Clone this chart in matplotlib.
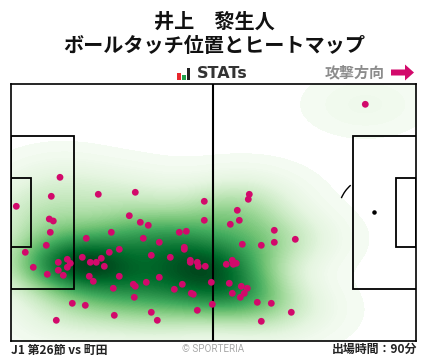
import numpy as np
import matplotlib
matplotlib.use('Agg')
import matplotlib.pyplot as plt
from matplotlib.patches import Arc, Rectangle, FancyArrow

plt.rcParams['font.family'] = ['Noto Sans CJK JP', 'DejaVu Sans']

# touch positions (pitch axes run in picture pixels)
touch_x = [60, 51.3, 98.3, 135.3, 204.3, 16.3, 129.3, 365.3, 249.3, 248.3, 237.3,
           49.3, 53.3, 50.3, 46.3, 25.3, 33.3, 47.3, 58.3, 58.3, 63.3, 67.3, 70.3, 67.3,
           72.3, 85.3, 56.3, 86.3, 82.3, 90.3, 96.3, 101.3, 104.3, 109.3, 111.3, 119.3,
           89.3, 93.3, 119.3, 113.3, 114.3, 133.3, 135.3, 134.3, 146.3, 159.3, 151.3,
           157.3, 151.3, 143.3, 140.3, 148.3, 159.3, 170.3, 179.3, 186.3, 184.3, 184.3,
           190.3, 190.3, 197.3, 198.3, 205.3, 204.3, 174.3, 182.3, 191.3, 193.3, 197.3,
           211.3, 212.3, 230.3, 239.3, 274.3, 242.3, 261.3, 274.3, 295.3, 232.3, 226.3,
           233.3, 236.3, 229.3, 241.3, 247.3, 244.3, 232.3, 240.3, 257.3, 271.3, 291.3,
           261.3]
touch_y = [177.3, 196.3, 194.3, 192.3, 201.3, 206.3, 215.7, 104.3, 194.3, 199.3, 210.3,
           219, 221, 232.3, 245.3, 252.3, 267.3, 274.3, 262.3, 270.3, 275.3, 259.3, 263.3, 267.3,
           303.3, 305.3, 320.3, 238.3, 257.3, 262.3, 262.3, 258.3, 266.3, 252.3, 232.3, 249.3,
           276.3, 281.3, 276.3, 288.3, 315.3, 284.3, 286.3, 297.3, 282.3, 277.3, 312.3,
           320.3, 255.3, 238.3, 222.3, 225.3, 242.3, 257.3, 232.3, 231.3, 247.3, 249.3,
           260.3, 262.3, 262.3, 266.3, 266.3, 220.3, 289.3, 284.3, 293.3, 294.3, 310.3,
           282.3, 304.3, 224.3, 220.3, 230.3, 244.3, 245.3, 242.3, 239.3, 260.3, 264.3,
           264.3, 263.3, 283.3, 286.3, 288.3, 293.3, 293.3, 297.3, 302.3, 303.3, 312.3,
           321.3]

title_top = '井上　黎生人'
title_bottom = 'ボールタッチ位置とヒートマップ'
match_label = 'J1 第26節 vs 町田'
minutes_label = '出場時間：90分'
PINK = '#d2096b'

fig = plt.figure(figsize=(4.28, 3.59), dpi=100)
W, H = 428.0, 359.0
ax = fig.add_axes([11 / W, 1 - 341 / H, 405 / W, 257 / H])
ax.set_xlim(11, 416)
ax.set_ylim(341, 84)
ax.set_xticks([])
ax.set_yticks([])
for s in ax.spines.values():
    s.set_linewidth(1.2)

# heatmap: kernel density of the touches
tx = np.array(touch_x)
ty = np.array(touch_y)
gx, gy = np.meshgrid(np.linspace(11, 416, 300), np.linspace(84, 341, 200))
dens = np.zeros_like(gx)
for px, py in zip(tx, ty):
    dens += np.exp(-0.5 * (((gx - px) / 36.0) ** 2 + ((gy - py) / 19.0) ** 2))
levels = np.concatenate([[0.2, 0.55], np.arange(0.9, dens.max() + 0.2, 0.15)])
ax.contourf(gx, gy, dens, levels=levels, cmap='Greens',
            vmin=0.0, vmax=dens.max(), zorder=1)

# pitch lines
line = dict(fill=False, edgecolor='black', linewidth=1.3, zorder=3)
ax.add_patch(Rectangle((11, 136), 63, 153, **line))
ax.add_patch(Rectangle((11, 178), 20, 69, **line))
ax.add_patch(Rectangle((352.5, 136), 64, 153, **line))
ax.add_patch(Rectangle((396, 178), 20, 69, **line))
ax.axvline(213, color='black', linewidth=1.5, zorder=3)
ax.add_patch(Arc((374, 212), 71, 71, theta1=203, theta2=229,
                 edgecolor='black', linewidth=1.0, zorder=3))
ax.scatter([374], [212], s=5, color='black', zorder=3)

ax.scatter(tx, ty, s=24, color=PINK, edgecolor='none', zorder=4)

# header
fig.text(0.5, 1 - 21 / H, title_top, ha='center', va='center', fontsize=14.5,
         fontweight='bold', color='#111111')
fig.text(0.5, 1 - 46 / H, title_bottom, ha='center', va='center', fontsize=14.5,
         fontweight='bold', color='#111111')

# STATs logo
overlay = fig.add_axes([0, 0, 1, 1], facecolor='none')
overlay.set_xlim(0, W)
overlay.set_ylim(H, 0)
overlay.axis('off')
overlay.add_patch(Rectangle((177, 73), 4, 7, color='#e8262c', lw=0))
overlay.add_patch(Rectangle((182, 75), 4, 5, color='#22a04a', lw=0))
overlay.add_patch(Rectangle((187, 68), 3.5, 12, color='#222222', lw=0))
overlay.text(197, 74, 'STATs', ha='left', va='center', fontsize=11.5, fontweight='bold',
             family='DejaVu Sans', color='#333333')

overlay.text(385, 72, '攻撃方向', ha='right', va='center', fontsize=10.8,
             fontweight='bold', color='#8c8c8c')
overlay.add_patch(FancyArrow(391, 72.5, 23, 0, width=6, head_width=16, head_length=9,
                             length_includes_head=True, color=PINK, lw=0))

# footer
fig.text(11 / W, 1 - 350 / H, match_label, ha='left', va='center', fontsize=8.6,
         fontweight='bold', color='#222222')
fig.text(417 / W, 1 - 349 / H, minutes_label, ha='right', va='center', fontsize=8.6,
         fontweight='bold', color='#222222')
fig.text(213 / W, 1 - 348.5 / H, '© SPORTERIA', ha='center', va='center', fontsize=7.1,
         family='Roboto', color='#a8a8a8')

fig.savefig('out.png', dpi=100)
